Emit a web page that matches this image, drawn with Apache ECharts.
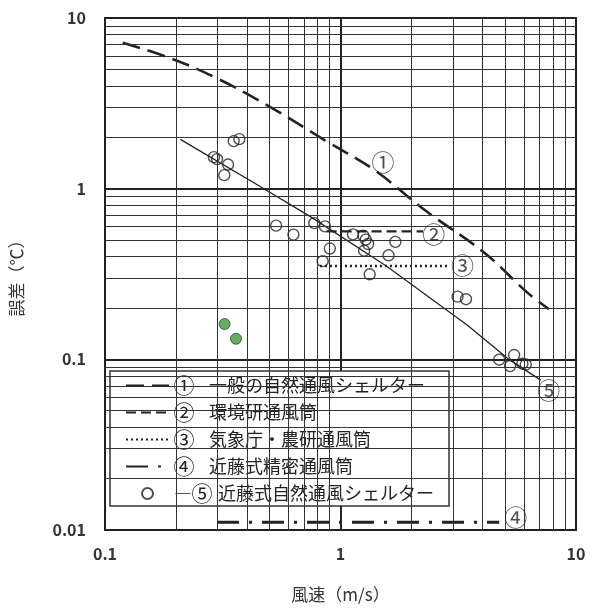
<!DOCTYPE html>
<html>
<head>
<meta charset="utf-8">
<script src="https://cdn.jsdelivr.net/npm/echarts@6/dist/echarts.min.js"></script>
<style>html,body{margin:0;padding:0;background:#fff;}#c{width:600px;height:608px;}</style>
</head>
<body>
<div id="c"></div>
<script>
// ---- data ----
const xTickLabels = ['0.1', '1', '10'];
const yTickLabels = ['0.01', '0.1', '1', '10'];
const xMinorGrid = [0.2,0.3,0.4,0.5,0.6,0.7,0.8,0.9,2,3,4,5,6,7,8,9];
const yMinorGrid = [0.02,0.03,0.04,0.05,0.06,0.07,0.08,0.09,0.2,0.3,0.4,0.5,0.6,0.7,0.8,0.9,2,3,4,5,6,7,8,9];

const seriesNames = ['一般の自然通風シェルター','環境研通風筒','気象庁・農研通風筒','近藤式精密通風筒','近藤式自然通風シェルター'];
const seriesMarks = ['①','②','③','④','⑤'];

const line1 = [[0.119,7.16],[0.187,5.85],[0.294,4.48],[0.479,3.13],[0.859,1.92],[1.40,1.28],[2.27,0.752],[4.08,0.421],[6.22,0.246],[7.67,0.197]];
const line2 = [[0.873,0.562],[2.24,0.562]];
const line3 = [[0.818,0.352],[2.85,0.352]];
const line4 = [[0.299,0.0111],[4.72,0.0111]];
const line5 = [[0.209,1.945],[0.434,1.073],[0.742,0.688],[1.565,0.352],[3.47,0.158],[5.13,0.101],[7.08,0.0755]];
const points5 = [[0.352,1.90],[0.372,1.95],[0.290,1.53],[0.299,1.49],[0.333,1.385],[0.321,1.20],
  [0.533,0.607],[0.631,0.538],[0.774,0.628],[0.859,0.601],[0.901,0.446],[0.840,0.376],
  [1.13,0.540],[1.25,0.530],[1.28,0.503],[1.31,0.474],[1.26,0.433],[1.33,0.315],[1.60,0.407],[1.71,0.488],
  [3.14,0.233],[3.41,0.225],[4.72,0.0995],[5.46,0.106],[5.25,0.0913],[5.92,0.0943],[6.12,0.0932]];
const greenPoints = [[0.322,0.161],[0.360,0.132]];
const markX = [1.516, 2.49, 3.30, 5.55, 7.67];
const markY = [1.436, 0.540, 0.357, 0.01186, 0.0656];

// ---- chart ----
const FONT = '"Noto Sans CJK JP", "Noto Sans", sans-serif';
const INK = '#222';
const chart = echarts.init(document.getElementById('c'));

const minorLines = xMinorGrid.map(v => ({xAxis: v})).concat(yMinorGrid.map(v => ({yAxis: v})));
const markData = markX.map((x, i) => [x, markY[i]]);
const legendData = seriesNames.map((n, i) => i < 4 ? {name: n, itemStyle: {opacity: 0}} : {name: n});

chart.setOption({
  animation: false,
  backgroundColor: '#fff',
  textStyle: {fontFamily: FONT},
  grid: {left: 103, right: 24, top: 18, bottom: 72, show: true, borderColor: INK, borderWidth: 2, backgroundColor: 'transparent'},
  xAxis: {
    type: 'log', logBase: 10, min: 0.1, max: 10,
    name: '風速（m/s）', nameLocation: 'middle', nameGap: 56,
    nameTextStyle: {fontFamily: FONT, fontSize: 17, color: '#333'},
    axisLine: {show: true, lineStyle: {color: INK, width: 2}},
    axisTick: {show: false},
    splitLine: {show: true, lineStyle: {color: INK, width: 2}},
    axisLabel: {fontFamily: FONT, fontSize: 16, fontWeight: 'bold', color: '#333', margin: 16,
      formatter: v => { const s = xTickLabels.find(t => Math.abs(parseFloat(t) - v) < 1e-6 * v); return s || ''; }}
  },
  yAxis: {
    type: 'log', logBase: 10, min: 0.01, max: 10,
    name: '誤差（℃）', nameLocation: 'middle', nameGap: 80,
    nameTextStyle: {fontFamily: FONT, fontSize: 17, color: '#333'},
    axisLine: {show: true, lineStyle: {color: INK, width: 2}},
    axisTick: {show: false},
    splitLine: {show: true, lineStyle: {color: INK, width: 2}},
    axisLabel: {fontFamily: FONT, fontSize: 16, fontWeight: 'bold', color: '#333', margin: 19,
      formatter: v => { const s = yTickLabels.find(t => Math.abs(parseFloat(t) - v) < 1e-6 * v); return s || ''; }}
  },
  legend: {
    orient: 'vertical', left: 110, top: 371,
    padding: [4, 15, 2, 15],
    itemWidth: 43, itemHeight: 11, itemGap: 6,
    backgroundColor: '#fff', borderColor: '#333', borderWidth: 1.5, borderRadius: 0,
    data: legendData,
    formatter: name => {
      const i = seriesNames.indexOf(name);
      if (i === 4) return '{d|―}{c|' + seriesMarks[i] + '}{g2|}{t|' + name + '}';
      return '{c|' + seriesMarks[i] + '}{g|}{t|' + name + '}';
    },
    textStyle: {
      fontFamily: FONT, fontSize: 18, color: INK,
      rich: {
        c: {fontFamily: FONT, fontSize: 21, width: 20, align: 'center', lineHeight: 20, color: INK},
        d: {fontFamily: FONT, fontSize: 18, width: 18, align: 'left', lineHeight: 20, color: INK},
        g: {width: 15, lineHeight: 20},
        g2: {width: 6, lineHeight: 20},
        t: {fontFamily: FONT, fontSize: 18, lineHeight: 20, color: INK}
      }
    }
  },
  series: [
    {
      name: 'minorGrid', type: 'scatter', data: [], z: 1, silent: true,
      markLine: {silent: true, symbol: ['none', 'none'], label: {show: false}, animation: false,
        lineStyle: {color: '#333', width: 1, type: 'solid'}, emphasis: {disabled: true}, data: minorLines}
    },
    {name: seriesNames[0], type: 'line', data: line1, smooth: 0.4, symbol: 'none', z: 3,
      lineStyle: {color: INK, width: 2.6, type: [18, 8]}, itemStyle: {color: INK}},
    {name: seriesNames[1], type: 'line', data: line2, symbol: 'none', z: 3,
      lineStyle: {color: INK, width: 2.4, type: [10, 5]}, itemStyle: {color: INK}},
    {name: seriesNames[2], type: 'line', data: line3, symbol: 'none', z: 3,
      lineStyle: {color: INK, width: 2.4, type: [2, 3]}, itemStyle: {color: INK}},
    {name: seriesNames[3], type: 'line', data: line4, symbol: 'none', z: 3,
      lineStyle: {color: INK, width: 3, type: [22, 10, 3, 10]}, itemStyle: {color: INK}},
    {name: 'fit5', type: 'line', data: line5, smooth: false, symbol: 'none', z: 3,
      lineStyle: {color: INK, width: 1.3}},
    {name: seriesNames[4], type: 'scatter', data: points5, symbol: 'circle', symbolSize: 11, z: 4,
      itemStyle: {color: 'rgba(255,255,255,0)', borderColor: INK, borderWidth: 1.4}},
    {name: 'green', type: 'scatter', data: greenPoints, symbol: 'circle', symbolSize: 11, z: 4,
      itemStyle: {color: '#3f9a3a', borderColor: '#2a4a2a', borderWidth: 1}},
    {name: 'marks', type: 'scatter', data: markData, symbolSize: 1, z: 5,
      itemStyle: {color: 'rgba(0,0,0,0)'},
      label: {show: true, position: 'inside', formatter: p => seriesMarks[p.dataIndex],
        fontFamily: FONT, fontSize: 23, color: INK}}
  ]
});
</script>
</body>
</html>
